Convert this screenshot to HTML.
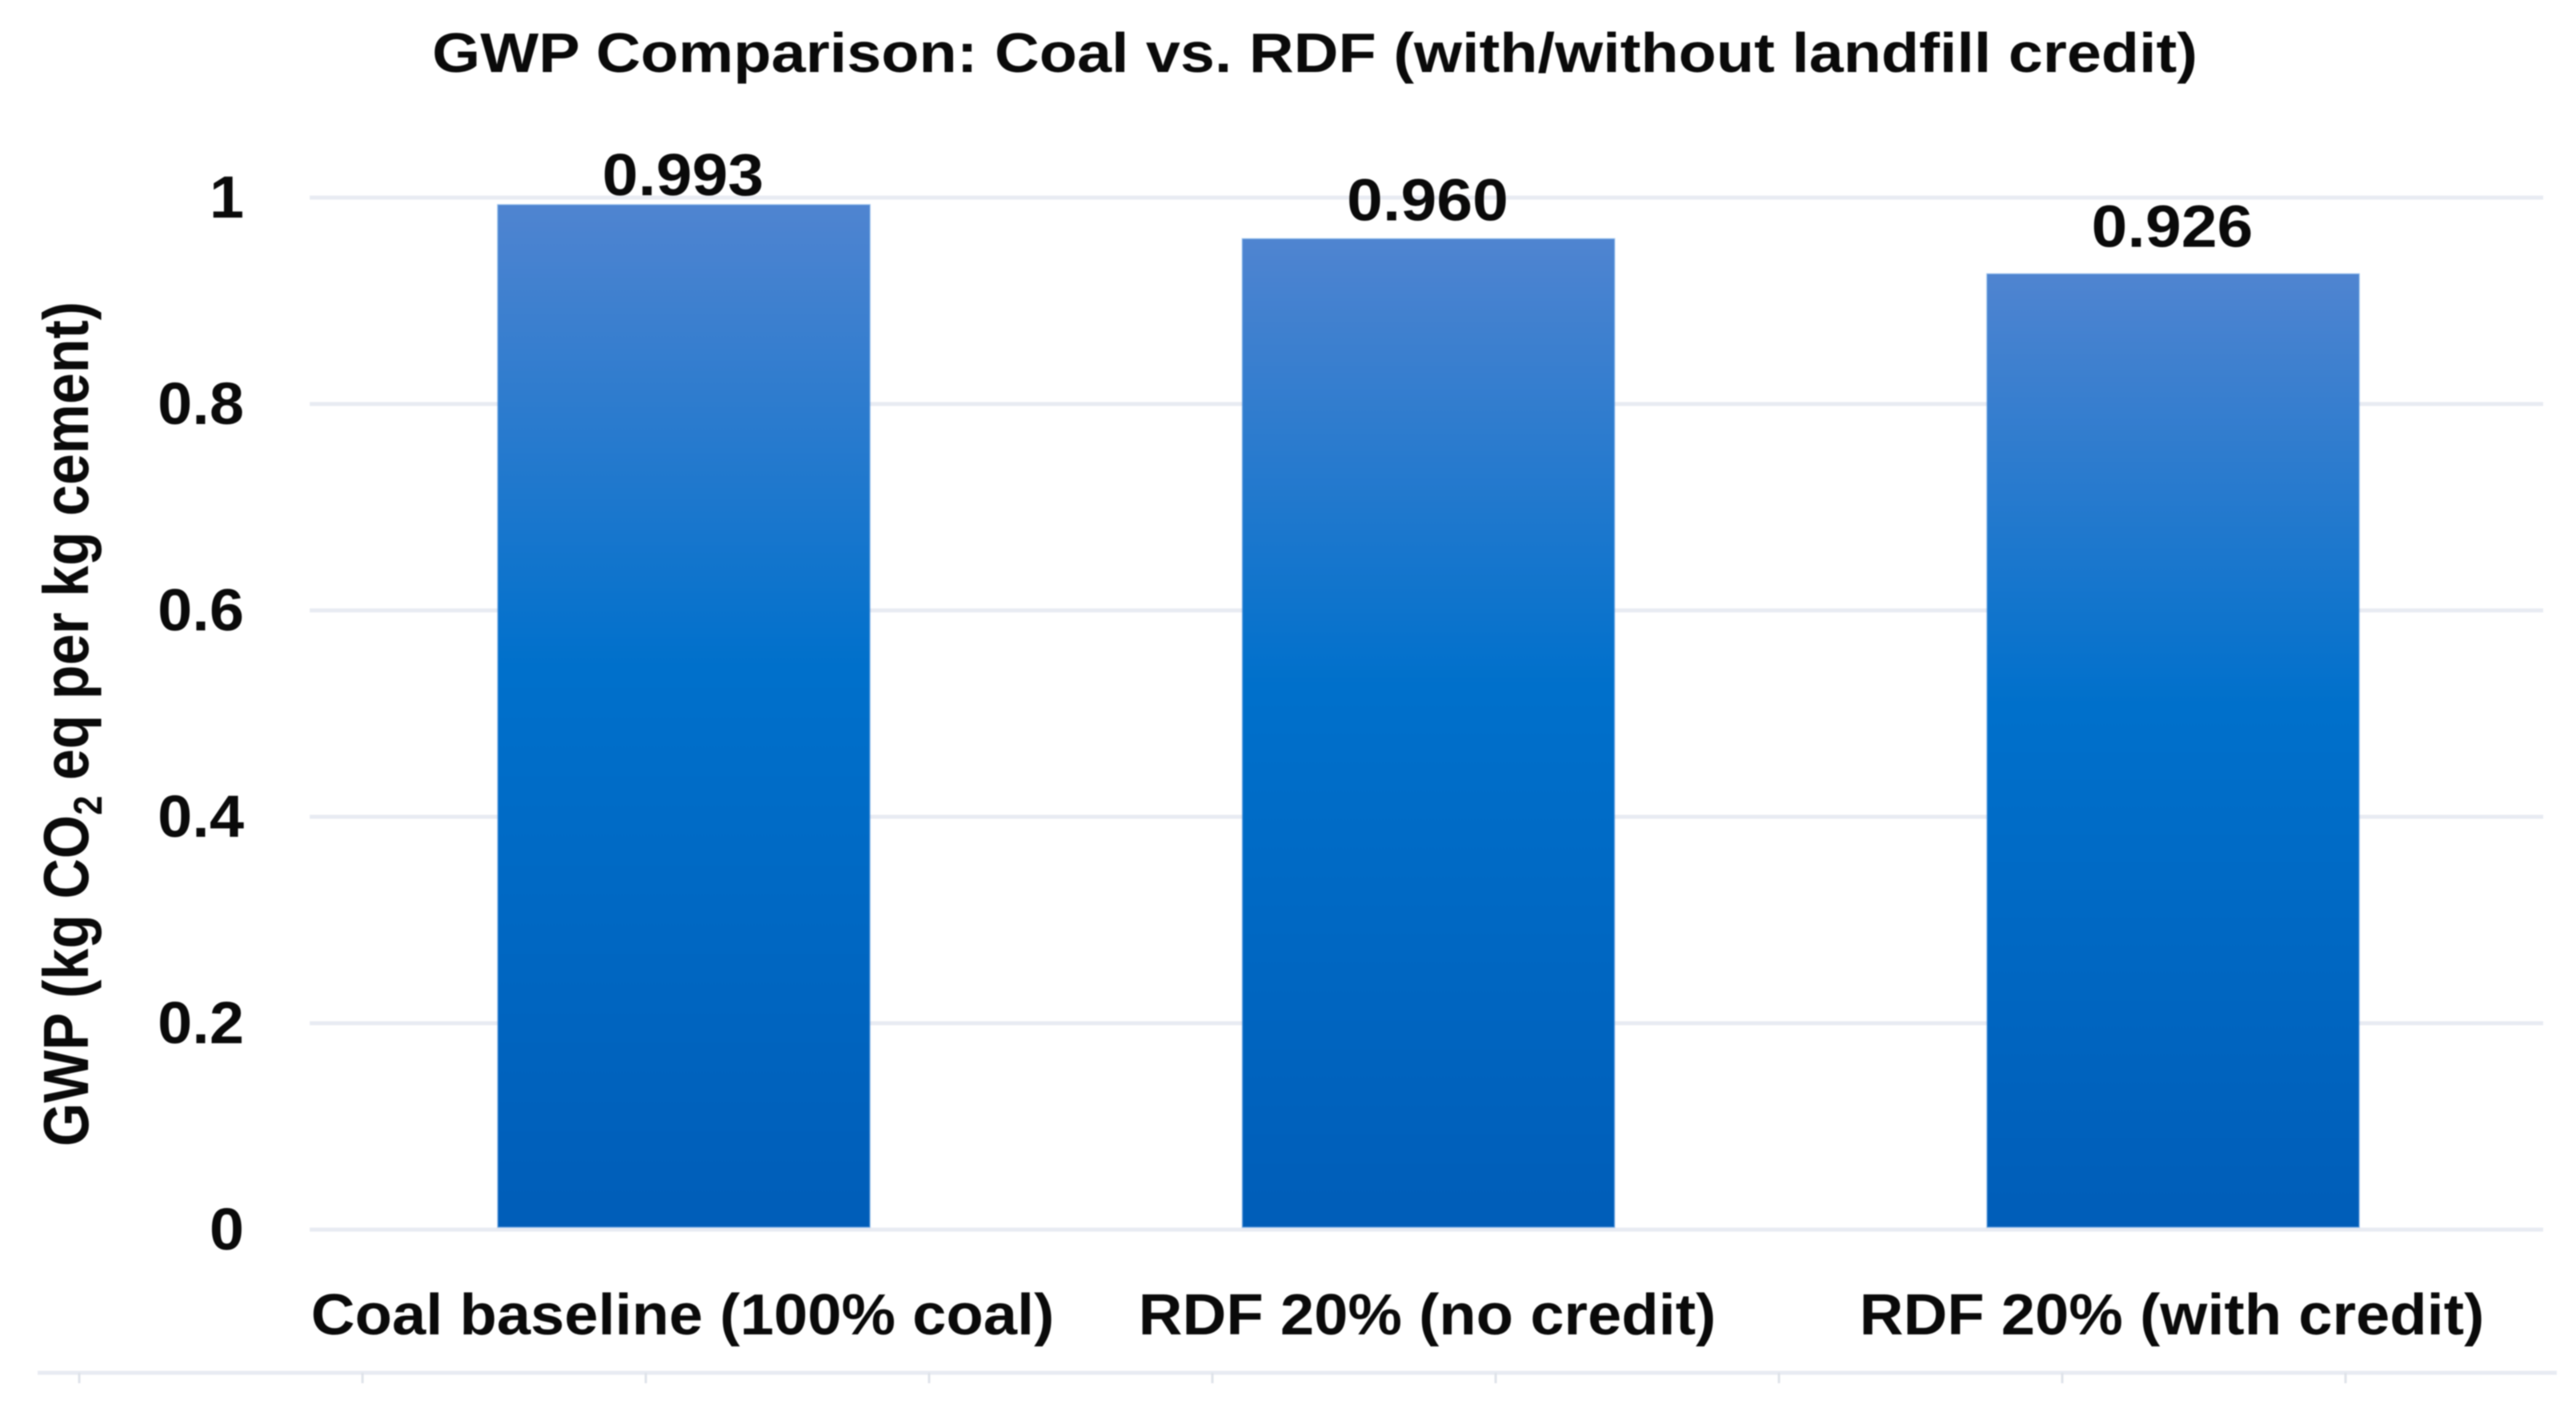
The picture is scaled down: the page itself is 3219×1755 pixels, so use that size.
<!DOCTYPE html>
<html>
<head>
<meta charset="utf-8">
<title>GWP Comparison</title>
<style>
html,body{margin:0;padding:0;background:#fff;overflow:hidden;}
svg{display:block;filter:blur(0.9px);}
text{font-family:"Liberation Sans",sans-serif;font-weight:bold;fill:#0a0a0a;}
</style>
</head>
<body>
<svg id="chart" xmlns="http://www.w3.org/2000/svg" width="3219" height="1755" viewBox="0 0 3219 1755">
  <defs>
    <linearGradient id="barFill" x1="0" y1="0" x2="0" y2="1">
      <stop offset="0" stop-color="#4f84d0"/>
      <stop offset="0.45" stop-color="#0070cb"/>
      <stop offset="1" stop-color="#005db8"/>
    </linearGradient>
  </defs>
  <rect x="0" y="0" width="3219" height="1755" fill="#ffffff"/>
  <text id="title" x="540" y="90" font-size="70" textLength="2206" lengthAdjust="spacingAndGlyphs">GWP Comparison: Coal vs. RDF (with/without landfill credit)</text>
  <g id="grid"></g>
  <g id="bars"></g>
  <g id="values"></g>
  <g id="yticks"></g>
  <g id="xlabels"></g>
  <text id="ytitle" transform="translate(110,905) rotate(-90)" text-anchor="middle" font-size="80" textLength="1056" lengthAdjust="spacingAndGlyphs">GWP (kg CO<tspan font-size="50" dy="17">2</tspan><tspan dy="-17"> eq per kg cement)</tspan></text>
  <g id="lower-axis"></g>
</svg>
<script>
const categories = ["Coal baseline (100% coal)", "RDF 20% (no credit)", "RDF 20% (with credit)"];
const gwpValues = [0.993, 0.960, 0.926];
const valueLabels = ["0.993", "0.960", "0.926"];
const yTicks = [0, 0.2, 0.4, 0.6, 0.8, 1];
const yTickLabels = ["0", "0.2", "0.4", "0.6", "0.8", "1"];
const lowerAxisTickCount = 9;

const NS = "http://www.w3.org/2000/svg";
const PLOT = { left: 387, right: 3178, y0: 1537, y1: 247 };
const BAND = { origin: 854.5, step: 930.5, width: 465 };

function yScale(v) { return PLOT.y0 - (PLOT.y0 - PLOT.y1) * v; }
function xCenter(i) { return BAND.origin + BAND.step * i; }
function labelBaseline(v) { return 244 + (0.993 - v) * 960; }

function make(tag, parent, attrs) {
  const el = document.createElementNS(NS, tag);
  for (const k in attrs) el.setAttribute(k, attrs[k]);
  parent.appendChild(el);
  return el;
}
function condense(el, factor) {
  el.setAttribute("lengthAdjust", "spacingAndGlyphs");
  el.setAttribute("textLength", el.getComputedTextLength() * factor);
}

const gridG = document.getElementById("grid");
const barsG = document.getElementById("bars");
const valuesG = document.getElementById("values");
const yticksG = document.getElementById("yticks");
const xlabelsG = document.getElementById("xlabels");
const lowerG = document.getElementById("lower-axis");

yTicks.forEach(function (t, i) {
  const line = make("line", gridG, { x1: PLOT.left, x2: PLOT.right, y1: yScale(t), y2: yScale(t), stroke: "#e8ebf2", "stroke-width": 5 });
  
  
  const label = make("text", yticksG, { x: 305, y: yScale(t) + 25, "text-anchor": "end", "font-size": 74 });
  
  
  label.textContent = yTickLabels[i];
  condense(label, 1.05);
});

gwpValues.forEach(function (v, i) {
  const top = yScale(v);
  const bar = make("rect", barsG, { x: xCenter(i) - BAND.width / 2, y: top, width: BAND.width, height: PLOT.y0 - 3 - top, fill: "url(#barFill)", stroke: "#5e9be0", "stroke-opacity": 0.45, "stroke-width": 2 });
  
  

  const val = make("text", valuesG, { x: xCenter(i) - 1, y: labelBaseline(v), "text-anchor": "middle", "font-size": 74 });
  
  
  val.textContent = valueLabels[i];
  condense(val, 1.09);

  const cat = make("text", xlabelsG, { x: xCenter(i) - 1.5, y: 1668, "text-anchor": "middle", "font-size": 72 });
  
  
  cat.textContent = categories[i];
  condense(cat, 1.055);
});

const strip = make("line", lowerG, { x1: 47, x2: 3195, y1: 1716, y2: 1716, stroke: "#e8ebf2", "stroke-width": 5 });


for (let k = 0; k < lowerAxisTickCount; k++) {
  const tick = make("line", lowerG, { x1: 99 + 354 * k, x2: 99 + 354 * k, y1: 1716, y2: 1729, stroke: "#dfe3ea", "stroke-width": 3 });
  
  
}
</script>
</body>
</html>
